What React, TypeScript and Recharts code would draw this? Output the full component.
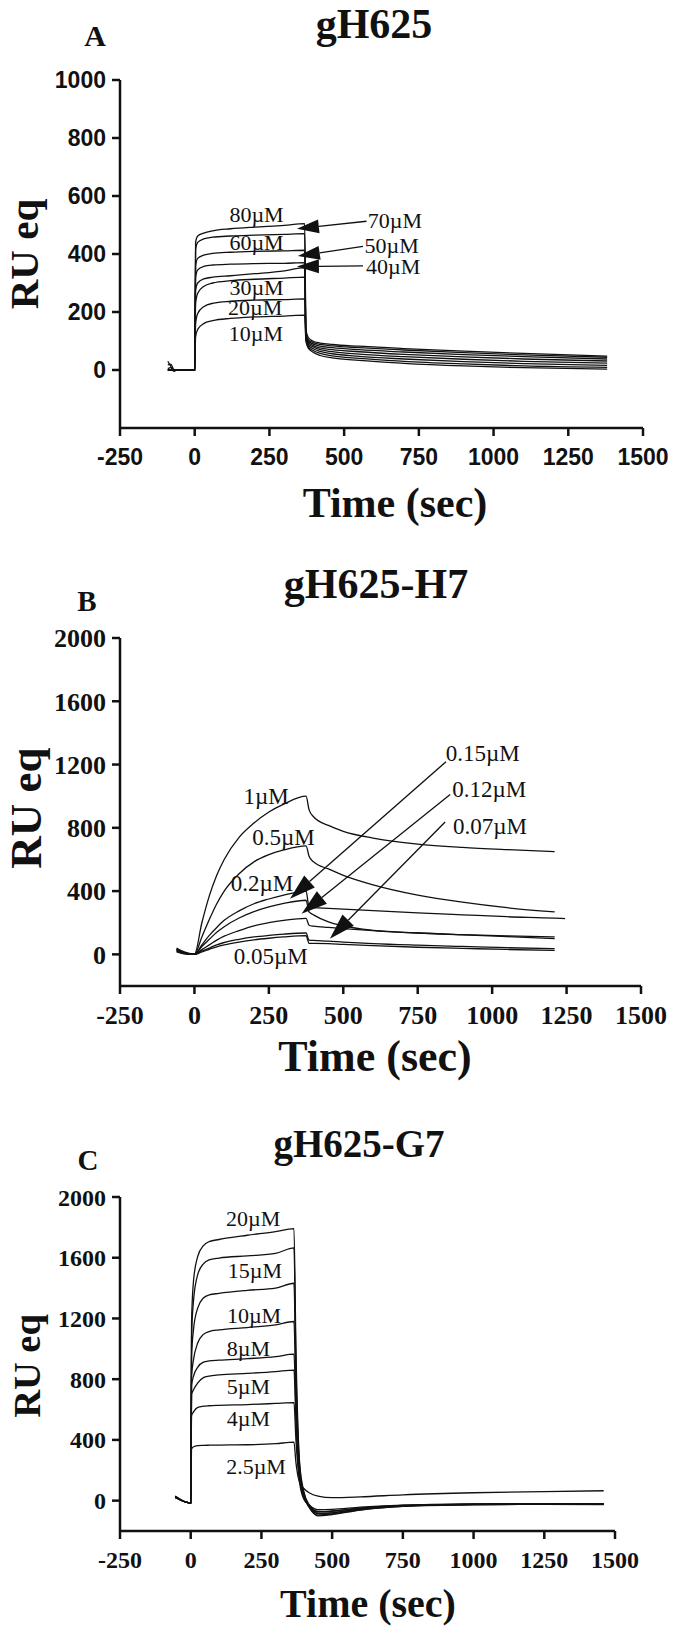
import React from 'react';
import { LineChart, Line, XAxis, YAxis, ReferenceLine, ReferenceDot } from 'recharts';

const SERIF = '"Liberation Serif", "Times New Roman", serif';
const SANS = '"Liberation Sans", Arial, sans-serif';
const INK = '#111';

// shared x ticks (seconds)
const xTicks = [-250, 0, 250, 500, 750, 1000, 1250, 1500];

// ---------- A: gH625 ----------
const timeA = [-90, -80, -70, -60, 0, 3, 10, 30, 60, 120, 200, 300, 368, 372, 380, 395, 420, 460, 550, 700, 900, 1100, 1380];
const a80 = [30, 12, -5, 0, 0, 440, 462, 472, 480, 487, 493, 499, 505, 140, 112, 100, 93, 88, 82, 74, 65, 57, 48];
const a70 = [18, 20, 2, 0, 0, 415, 440, 452, 458, 462, 465, 468, 470, 130, 105, 95, 88, 83, 77, 69, 60, 52, 44];
const a60 = [5, 8, 0, 0, 0, 360, 385, 396, 402, 406, 409, 411, 413, 125, 100, 90, 82, 77, 70, 62, 53, 46, 38];
const a50 = [0, 0, 0, 0, 0, 320, 345, 357, 362, 365, 367, 368, 370, 120, 95, 85, 76, 70, 63, 54, 45, 38, 31];
const a40 = [0, 0, 0, 0, 0, 275, 300, 314, 320, 325, 332, 342, 353, 115, 90, 80, 70, 63, 55, 46, 37, 30, 24];
const a30 = [0, 0, 0, 0, 0, 230, 265, 288, 300, 308, 313, 317, 320, 110, 85, 74, 64, 56, 47, 38, 29, 22, 16];
const a20 = [0, 0, 0, 0, 0, 160, 195, 218, 230, 237, 241, 243, 245, 105, 80, 68, 57, 49, 40, 30, 21, 14, 9];
const a10 = [0, 0, 0, 0, 0, 115, 140, 160, 170, 178, 183, 186, 189, 100, 75, 62, 50, 42, 33, 23, 14, 8, 3];
const yTicksA = [0, 200, 400, 600, 800, 1000];
const labelsA = [
  { text: '80µM', t: 207, v: 539 },
  { text: '60µM', t: 207, v: 441 },
  { text: '30µM', t: 207, v: 286 },
  { text: '20µM', t: 202, v: 215 },
  { text: '10µM', t: 205, v: 127 },
  { text: '70µM', t: 670, v: 518 },
  { text: '50µM', t: 659, v: 432 },
  { text: '40µM', t: 664, v: 359 },
];
const arrowsA = [
  { from: [575, 513], to: [342, 487] },
  { from: [563, 426], to: [345, 393] },
  { from: [563, 359], to: [342, 357] },
];

// ---------- B: gH625-H7 ----------
const timeB = [-60, -40, -20, 0, 25, 50, 75, 100, 150, 200, 250, 300, 375, 385, 400, 450, 500, 600, 750, 900, 1050, 1210, 1245];
const b1 = [40, 20, 8, 0, 200, 370, 500, 600, 740, 830, 900, 950, 1000, 915, 870, 815, 778, 735, 697, 676, 662, 650, null];
const b05 = [35, 15, 5, 0, 110, 220, 320, 400, 510, 585, 630, 660, 686, 620, 585, 540, 500, 440, 375, 330, 295, 268, null];
const b02 = [30, 12, 4, 0, 60, 120, 170, 215, 275, 320, 350, 375, 400, 300, 296, 291, 286, 276, 262, 250, 238, 229, 226];
const b015 = [30, 12, 4, 0, 50, 95, 140, 175, 230, 270, 300, 322, 342, 268, 250, 205, 180, 152, 135, 125, 117, 110, null];
const b012 = [25, 10, 3, 0, 30, 60, 90, 115, 150, 180, 200, 215, 228, 184, 178, 170, 163, 150, 135, 123, 112, 100, null];
const b007 = [20, 8, 2, 0, 20, 40, 60, 75, 95, 110, 120, 128, 135, 90, 88, 84, 78, 68, 58, 50, 42, 36, null];
const b005 = [15, 5, 0, 0, 15, 32, 48, 60, 78, 92, 102, 110, 118, 70, 70, 68, 63, 55, 45, 38, 31, 25, null];
const yTicksBC = [0, 400, 800, 1200, 1600, 2000];
const labelsB = [
  { text: '1µM', t: 241, v: 1000 },
  { text: '0.5µM', t: 299, v: 741 },
  { text: '0.2µM', t: 227, v: 452 },
  { text: '0.05µM', t: 256, v: -8 },
  { text: '0.15µM', t: 968, v: 1273 },
  { text: '0.12µM', t: 990, v: 1044 },
  { text: '0.07µM', t: 993, v: 813 },
];
const arrowsB = [
  { from: [845, 1218], to: [321, 352] },
  { from: [859, 1011], to: [360, 257] },
  { from: [842, 837], to: [455, 99] },
];

// ---------- C: gH625-G7 ----------
const timeC = [-55, -40, -20, 0, 3, 10, 25, 45, 65, 100, 200, 300, 365, 372, 385, 400, 420, 450, 500, 600, 750, 1000, 1250, 1460];
const c20 = [30, 12, -8, -15, 1180, 1450, 1610, 1680, 1706, 1720, 1748, 1772, 1792, 1000, 250, 60, -30, -75, -70, -50, -32, -24, -22, -22];
const c15 = [28, 10, -8, -15, 1080, 1320, 1490, 1560, 1586, 1598, 1612, 1628, 1665, 900, 230, 50, -40, -85, -80, -55, -35, -25, -23, -24];
const c10 = [25, 10, -8, -15, 950, 1130, 1270, 1335, 1355, 1365, 1385, 1400, 1432, 800, 200, 40, -45, -95, -88, -60, -37, -26, -24, -25];
const c8 = [25, 10, -8, -15, 820, 930, 1040, 1095, 1114, 1125, 1140, 1158, 1180, 700, 180, 30, -48, -100, -92, -62, -38, -27, -25, -26];
const cMid = [22, 8, -8, -15, 760, 820, 880, 912, 920, 925, 935, 948, 965, 600, 160, 25, -40, -85, -80, -56, -35, -25, -23, -24];
const c5 = [22, 8, -8, -15, 700, 730, 775, 810, 820, 828, 838, 850, 860, 520, 140, 18, -35, -72, -68, -50, -32, -23, -21, -22];
const c4 = [20, 8, -8, -15, 560, 585, 615, 622, 625, 628, 633, 640, 645, 400, 120, 10, -30, -60, -58, -43, -30, -22, -20, -21];
const c25 = [20, 8, -8, -15, 340, 355, 362, 364, 365, 366, 368, 375, 385, 250, 120, 80, 50, 30, 20, 25, 38, 52, 60, 65];
const labelsC = [
  { text: '20µM', t: 221, v: 1860 },
  { text: '15µM', t: 227, v: 1520 },
  { text: '10µM', t: 224, v: 1224 },
  { text: '8µM', t: 204, v: 1005 },
  { text: '5µM', t: 204, v: 752 },
  { text: '4µM', t: 204, v: 544 },
  { text: '2.5µM', t: 231, v: 226 },
];

const zip = (times: number[], vals: (number | null)[]) =>
  times.map((t, i) => ({ t, v: vals[i] })).filter(d => d.v !== null);

const arrowShape = (head: number, half: number) => (p: any) => {
  const { x1, y1, x2, y2 } = p;
  const dx = x2 - x1, dy = y2 - y1;
  const len = Math.hypot(dx, dy) || 1;
  const ux = dx / len, uy = dy / len;
  const bx = x2 - ux * head, by = y2 - uy * head;
  const px = -uy * half, py = ux * half;
  return (
    <g>
      <line x1={x1} y1={y1} x2={bx} y2={by} stroke={INK} strokeWidth={1.3} />
      <polygon points={`${x2},${y2} ${bx + px},${by + py} ${bx - px},${by - py}`} fill={INK} />
    </g>
  );
};

const panels = [
  {
    top: 0, height: 540,
    margin: { top: 80, right: 32, bottom: 72, left: 0 },
    yDomain: [-200, 1000], yTicks: yTicksA,
    tickFont: { fontFamily: SANS, fontSize: 23 }, xTickMargin: 13,
    times: timeA, series: [a80, a70, a60, a50, a40, a30, a20, a10],
    labels: labelsA, arrows: arrowsA, labelSize: 22, head: [22, 7],
  },
  {
    top: 540, height: 540,
    margin: { top: 98, right: 34, bottom: 54, left: 0 },
    yDomain: [-200, 2000], yTicks: yTicksBC,
    tickFont: { fontFamily: SERIF, fontSize: 26 }, xTickMargin: 12,
    times: timeB, series: [b1, b05, b02, b015, b012, b007, b005],
    labels: labelsB, arrows: arrowsB, labelSize: 23, head: [26, 8],
  },
  {
    top: 1080, height: 557,
    margin: { top: 117, right: 60, bottom: 66, left: 0 },
    yDomain: [-200, 2000], yTicks: yTicksBC,
    tickFont: { fontFamily: SERIF, fontSize: 24 }, xTickMargin: 12,
    times: timeC, series: [c20, c15, c10, c8, cMid, c5, c4, c25],
    labels: labelsC, arrows: [], labelSize: 22, head: [22, 7],
  },
];

const overlay = [
  { text: 'gH625', x: 374, y: 38, size: 42 },
  { text: 'A', x: 95, y: 46, size: 30 },
  { text: 'gH625-H7', x: 376, y: 598, size: 42 },
  { text: 'B', x: 87, y: 611, size: 29 },
  { text: 'gH625-G7', x: 359, y: 1157, size: 39 },
  { text: 'C', x: 88, y: 1170, size: 29 },
  { text: 'Time (sec)', x: 395, y: 517, size: 42 },
  { text: 'Time (sec)', x: 375, y: 1071, size: 44 },
  { text: 'Time (sec)', x: 368, y: 1617, size: 40 },
];
const yTitles = [
  { x: 38, y: 254, size: 41 },
  { x: 41, y: 808, size: 45 },
  { x: 40, y: 1366, size: 38.5 },
];

function Panel({ p }: { p: typeof panels[number] }) {
  const axisStyle = { stroke: INK, strokeWidth: 2.5 };
  const tick = { ...p.tickFont, fontWeight: 700, fill: INK };
  return (
    <LineChart width={675} height={p.height} margin={p.margin}>
      <XAxis
        type="number" dataKey="t" domain={[-250, 1500]} ticks={xTicks} allowDataOverflow
        height={40} axisLine={axisStyle} tickLine={axisStyle} tickSize={8}
        tickMargin={p.xTickMargin} tick={tick} interval={0}
      />
      <YAxis
        type="number" domain={p.yDomain} ticks={p.yTicks} allowDataOverflow width={120}
        axisLine={axisStyle} tickLine={axisStyle} tickSize={8} tickMargin={6} tick={tick} interval={0}
      />
      {p.series.map((vals, i) => (
        <Line
          key={i} data={zip(p.times, vals)} dataKey="v" type="monotone"
          stroke={INK} strokeWidth={1.3} dot={false} activeDot={false} isAnimationActive={false}
        />
      ))}
      {p.arrows.map((a, i) => (
        <ReferenceLine
          key={`ar${i}`}
          segment={[{ x: a.from[0], y: a.from[1] }, { x: a.to[0], y: a.to[1] }]}
          shape={arrowShape(p.head[0], p.head[1])}
        />
      ))}
      {p.labels.map((l, i) => (
        <ReferenceDot
          key={`lb${i}`} x={l.t} y={l.v} r={0} fill="none" stroke="none"
          label={{ value: l.text, position: 'center', fill: INK, fontSize: p.labelSize, fontFamily: SERIF }}
        />
      ))}
    </LineChart>
  );
}

export default function App() {
  return (
    <div style={{ position: 'absolute', left: 0, top: 0, width: 675, height: 1637, background: '#fff' }}>
      {panels.map((p, i) => (
        <div key={i} style={{ position: 'absolute', left: 0, top: p.top }}>
          <Panel p={p} />
        </div>
      ))}
      <svg width={675} height={1637} style={{ position: 'absolute', left: 0, top: 0, pointerEvents: 'none' }}>
        {overlay.map((o, i) => (
          <text key={i} x={o.x} y={o.y} textAnchor="middle" fontFamily={SERIF} fontWeight={700} fontSize={o.size} fill={INK}>
            {o.text}
          </text>
        ))}
        {yTitles.map((o, i) => (
          <text key={`y${i}`} transform={`translate(${o.x},${o.y}) rotate(-90)`} textAnchor="middle"
            fontFamily={SERIF} fontWeight={700} fontSize={o.size} fill={INK}>
            RU eq
          </text>
        ))}
      </svg>
    </div>
  );
}
